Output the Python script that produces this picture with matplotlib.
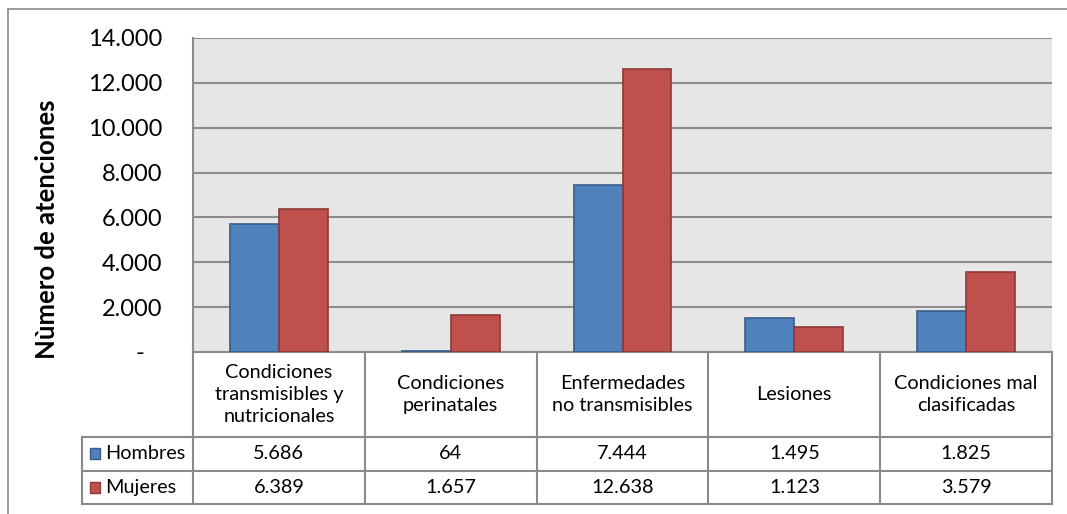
import numpy as np
import matplotlib
matplotlib.use('Agg')
from matplotlib import pyplot as plt
from matplotlib.lines import Line2D
from matplotlib.patches import Rectangle

plt.rcParams['font.family'] = ['Lato', 'DejaVu Sans']

# data
categories = ['Condiciones\ntransmisibles y\nnutricionales', 'Condiciones\nperinatales',
              'Enfermedades\nno transmisibles', 'Lesiones', 'Condiciones mal\nclasificadas']
series_names = ['Hombres', 'Mujeres']
hombres = [5686, 64, 7444, 1495, 1825]
mujeres = [6389, 1657, 12638, 1123, 3579]
yticks = [0, 2000, 4000, 6000, 8000, 10000, 12000, 14000]

colors = ['#4F81BD', '#C0504D']
edges = ['#385D8A', '#8C3836']
grid_c = '#8C8C8C'
frame_c = '#8A8A8A'

W, H = 1067, 514
fig = plt.figure(figsize=(W / 100, H / 100), dpi=100)

def box(l, t, r, b):
    return [l / W, (H - b) / H, (r - l) / W, (b - t) / H]

# outer chart frame
fig.add_artist(Line2D([8 / W, 1], [1 - 9 / H, 1 - 9 / H], color=frame_c, lw=1.2))
fig.add_artist(Line2D([8 / W, 8 / W], [0, 1 - 9 / H], color=frame_c, lw=1.2))

# plot area
ax = fig.add_axes(box(193, 38, 1052, 352))
x = np.arange(len(categories))
bw = 0.285
ax.set_facecolor('#E6E6E6')
for i, (vals, c, e) in enumerate(zip([hombres, mujeres], colors, edges)):
    ax.bar(x + (i - 0.5) * bw, vals, bw, color=c, edgecolor=e, linewidth=1.2, zorder=3)
ax.set_xlim(-0.5, len(categories) - 0.5)
ax.set_ylim(0, 14000)
ax.set_yticks(yticks)
ax.set_yticklabels(['-   '] + ['{:,}'.format(v).replace(',', '.') for v in yticks[1:]],
                   fontsize=17)
ax.tick_params(axis='y', length=0, pad=22)
ax.set_xticks([])
ax.yaxis.grid(True, color=grid_c, lw=1.5, zorder=1)
for s in ['top', 'right']:
    ax.spines[s].set_visible(False)
ax.spines['left'].set_color(grid_c)
ax.spines['left'].set_linewidth(1.5)
ax.spines['bottom'].set_color(grid_c)
ax.spines['bottom'].set_linewidth(1.5)
ax.set_ylabel('Nùmero de atenciones', fontsize=18.5, fontweight='bold', va='center')
ax.yaxis.set_label_coords(-0.170, 0.392)

# data table below the plot area
tx = fig.add_axes(box(82, 352, 1052, 504))
xl = -0.5 - 111 * len(categories) / 859
tx.set_xlim(xl, len(categories) - 0.5)
tx.set_ylim(152, 0)
tx.axis('off')
rows = [0, 85, 118.5, 152]
lkw = dict(color=frame_c, lw=1.5, clip_on=False)

# header row: category names
for k in range(len(categories) + 1):
    tx.plot([k - 0.5, k - 0.5], [rows[0], rows[1]], **lkw)
for i, cat in enumerate(categories):
    tx.text(i, (rows[0] + rows[1]) / 2, cat, ha='center', va='center',
            fontsize=14.3, linespacing=1.35)

# value rows
for k in range(len(categories) + 1):
    tx.plot([k - 0.5, k - 0.5], [rows[1], rows[3]], **lkw)
tx.plot([xl, xl], [rows[1], rows[3]], **lkw)
for r in rows[1:]:
    tx.plot([xl, len(categories) - 0.5], [r, r], **lkw)

for j, (name, vals) in enumerate(zip(series_names, [hombres, mujeres])):
    yc = (rows[j + 1] + rows[j + 2]) / 2
    tx.add_patch(Rectangle((xl + 0.045, yc - 5.5), 0.062, 11, facecolor=colors[j],
                           edgecolor=edges[j], lw=1, clip_on=False))
    tx.text(xl + 0.135, yc, name, ha='left', va='center', fontsize=14.3)
    for i, v in enumerate(vals):
        tx.text(i, yc, '{:,}'.format(v).replace(',', '.'), ha='center', va='center',
                fontsize=14.3)

fig.savefig('out.png', dpi=100)
